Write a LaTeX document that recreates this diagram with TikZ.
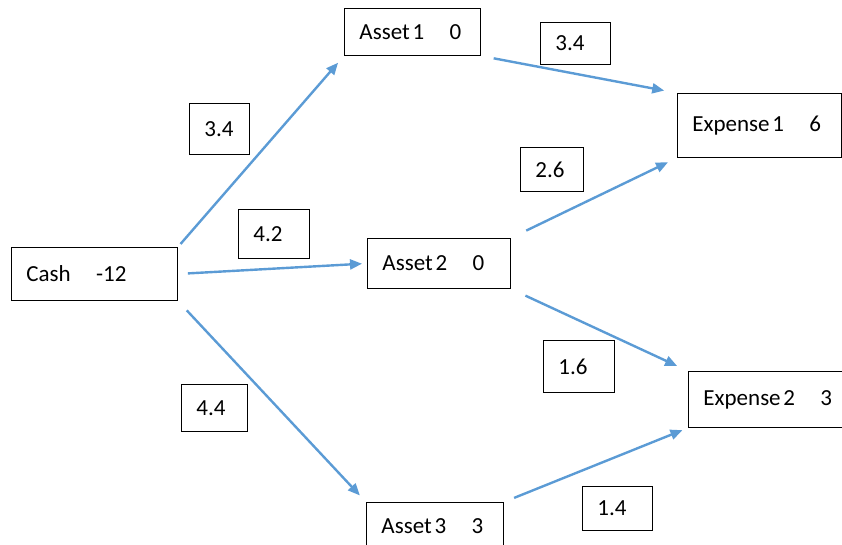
\documentclass[tikz,border=0pt]{standalone}
\usepackage{fontspec}
\setmainfont{Carlito}
\usetikzlibrary{arrows.meta}

\begin{document}
\begin{tikzpicture}[x=1pt,y=-1pt,font=\fontsize{23}{27}\selectfont,
    box/.style={draw,line width=0.9pt,anchor=north west,align=left,inner xsep=15pt,inner ysep=0pt},
    flow/.style={draw={rgb,255:red,91;green,155;blue,213},line width=2.4pt,-{Triangle[length=12pt,width=10pt]}}]
  \useasboundingbox (0,0) rectangle (842,544);
  % accounts with their balances
  \node[box,text width=136pt,minimum height=53pt] (cash) at (11,247) {\mbox{Cash\hspace{1.1em}-12}};
  \node[box,text width=106pt,minimum height=47pt] (asset1) at (344,8) {\mbox{Asset\hspace{0.12em}1\hspace{1.1em}0}};
  \node[box,text width=113pt,minimum height=50pt] (asset2) at (367,238) {\mbox{Asset\hspace{0.12em}2\hspace{1.1em}0}};
  \node[box,text width=107pt,minimum height=48pt] (asset3) at (366,502) {\mbox{Asset\hspace{0.12em}3\hspace{1.1em}3}};
  \node[box,text width=134pt,minimum height=64pt] (exp1) at (677,93) {\mbox{Expense\hspace{0.12em}1\hspace{1.1em}6}};
  \node[box,text width=140pt,minimum height=56pt] (exp2) at (688,371) {\mbox{Expense\hspace{0.12em}2\hspace{1.1em}3}};
  % amounts moved
  \node[box,text width=30pt,minimum height=51pt] (ca1) at (189,103) {3.4};
  \node[box,text width=41pt,minimum height=49pt] (ca2) at (238,209) {4.2};
  \node[box,text width=36pt,minimum height=47pt] (ca3) at (181,384) {4.4};
  \node[box,text width=40pt,minimum height=42pt] (a1e1) at (540,22) {3.4};
  \node[box,text width=33pt,minimum height=44pt] (a2e1) at (520,147) {2.6};
  \node[box,text width=41pt,minimum height=52pt] (a2e2) at (543,340) {1.6};
  \node[box,text width=40pt,minimum height=44pt] (a3e2) at (582,486) {1.4};
  % flows
  \draw[flow,shorten <=4pt,shorten >=9pt] (cash.north east) -- (asset1.south west);
  \draw[flow,shorten <=10pt,shorten >=5pt] (cash.east) -- (asset2.west);
  \draw[flow,shorten <=13pt,shorten >=9pt] (cash.south east) -- (asset3.north west);
  \draw[flow,shorten <=13pt,shorten >=13pt] (asset1.south east) -- (exp1.north west);
  \draw[flow,shorten <=17pt,shorten >=10pt] (asset2.north east) -- (exp1.south west);
  \draw[flow,shorten <=16pt,shorten >=12pt] (asset2.south east) -- (exp2.north west);
  \draw[flow,shorten <=11pt,shorten >=6pt] (asset3.north east) -- (exp2.south west);
\end{tikzpicture}
\end{document}
